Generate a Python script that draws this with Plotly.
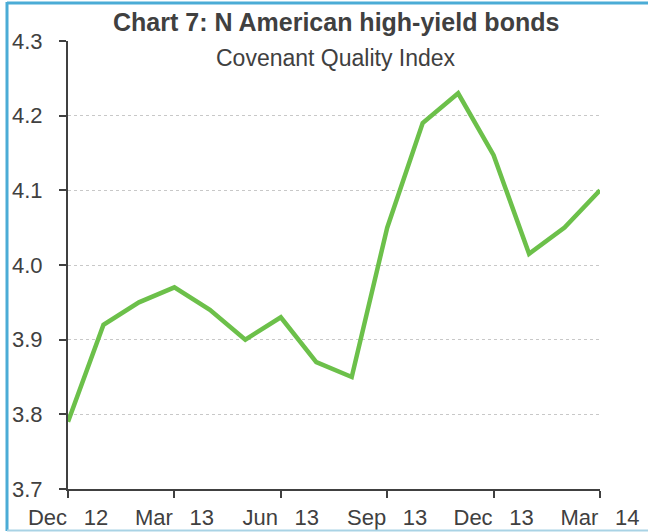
import plotly.graph_objects as go

# Monthly index readings, Dec 2012 - Mar 2014
months = ["Dec 12", "Jan 13", "Feb 13", "Mar 13", "Apr 13", "May 13", "Jun 13",
          "Jul 13", "Aug 13", "Sep 13", "Oct 13", "Nov 13", "Dec 13", "Jan 14",
          "Feb 14", "Mar 14"]
cqi = [3.79, 3.92, 3.95, 3.97, 3.94, 3.90, 3.93, 3.87, 3.85, 4.05, 4.19, 4.23,
       4.147, 4.015, 4.05, 4.10]

tick_months = ["Dec 12", "Mar 13", "Jun 13", "Sep 13", "Dec 13", "Mar 14"]
tick_labels = [m.replace(" ", "\u00a0\u00a0\u2009") for m in tick_months]
y_ticks = [3.7, 3.8, 3.9, 4.0, 4.1, 4.2, 4.3]

FONT = "Liberation Sans, Arial, sans-serif"
AXIS = "#404040"

fig = go.Figure()
fig.add_trace(go.Scatter(
    x=months, y=cqi, mode="lines",
    line=dict(color="#6CC04A", width=4.5),
    hoverinfo="x+y",
))

W, H = 648, 532
L, R, T, B = 68, 48, 41, 43
pw, ph = W - L - R, H - T - B

def px(x):
    return (x - L) / pw

def py(y):
    return (H - B - y) / ph

fig.update_layout(
    width=W, height=H,
    margin=dict(l=L, r=R, t=T, b=B, autoexpand=False),
    paper_bgcolor="white", plot_bgcolor="white",
    showlegend=False,
    font=dict(family=FONT, color=AXIS, size=22),
    xaxis=dict(
        type="category", range=[0, len(months) - 1],
        tickmode="array", tickvals=tick_months, ticktext=tick_labels,
        showgrid=False, zeroline=False, automargin=False,
        showline=True, linecolor=AXIS, linewidth=2,
        ticks="outside", ticklen=7, tickwidth=2, tickcolor=AXIS,
        ticklabelstandoff=1,
        tickfont=dict(size=22, color=AXIS, family=FONT),
    ),
    yaxis=dict(
        range=[3.7, 4.3], tickmode="array", tickvals=y_ticks,
        ticktext=[f"{v:.1f}" for v in y_ticks],
        showgrid=True, gridcolor="#C8C8C8", gridwidth=1, griddash="dot",
        zeroline=False, automargin=False,
        showline=True, linecolor=AXIS, linewidth=2,
        ticks="outside", ticklen=7, tickwidth=2, tickcolor=AXIS,
        ticklabelstandoff=12,
        tickfont=dict(size=22, color=AXIS, family=FONT),
    ),
    annotations=[
        dict(text="<b>Chart 7: N American high-yield bonds</b>",
             xref="paper", yref="paper", x=px(336), y=py(22),
             xanchor="center", yanchor="middle", showarrow=False,
             font=dict(size=25, color=AXIS, family=FONT)),
        dict(text="Covenant Quality Index",
             xref="paper", yref="paper", x=px(336), y=py(58),
             xanchor="center", yanchor="middle", showarrow=False,
             font=dict(size=23, color=AXIS, family=FONT)),
    ],
    shapes=[
        # frame around the chart
        dict(type="line", xref="paper", yref="paper",
             x0=px(7), x1=px(W), y0=py(3), y1=py(3),
             line=dict(color="#4BACD6", width=3)),
        dict(type="line", xref="paper", yref="paper",
             x0=px(7), x1=px(7), y0=py(2), y1=py(531),
             line=dict(color="#4BACD6", width=3)),
        dict(type="line", xref="paper", yref="paper",
             x0=px(7), x1=px(W), y0=py(530.5), y1=py(530.5),
             line=dict(color="#A9D3E5", width=2)),
    ],
)

fig.write_html("out.html")
